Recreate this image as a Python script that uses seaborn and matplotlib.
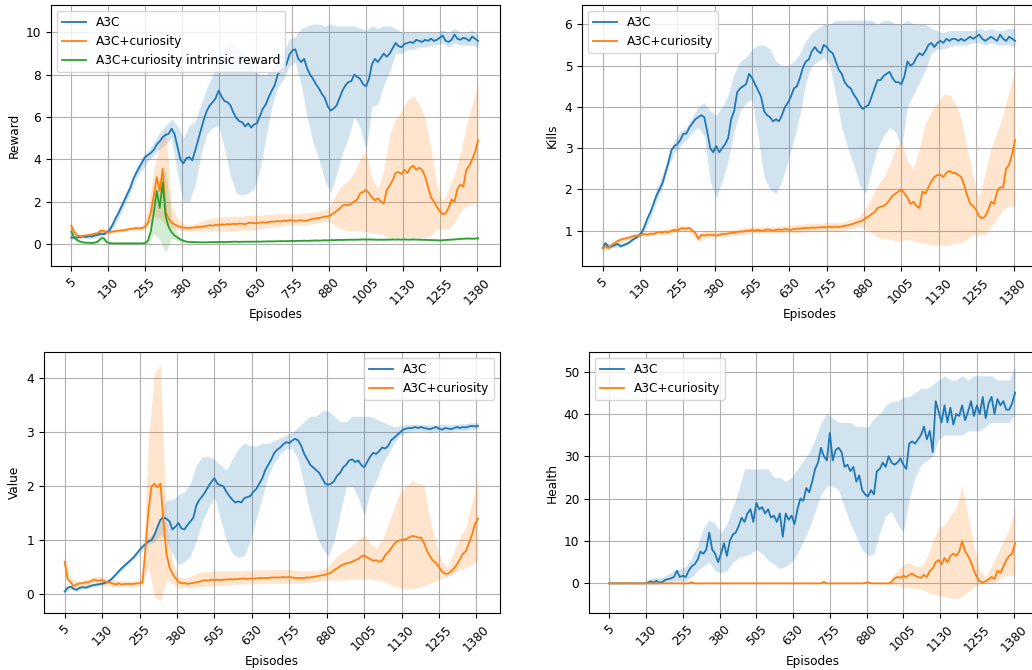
import numpy as np
import matplotlib
matplotlib.use("Agg")
import matplotlib.pyplot as plt
import seaborn as sns

# ---------------------------------------------------------------- data
# mean curves are sampled every 10 episodes, the shaded ranges every 20
episodes = np.arange(5, 1386, 10)
band_episodes = np.arange(5, 1386, 20)
tick_episodes = np.arange(5, 1381, 125)

reward_a3c = [
    0.30, 0.28, 0.30, 0.33, 0.35, 0.32, 0.36, 0.34, 0.40, 0.42,
    0.48, 0.45, 0.55, 0.65, 0.90, 1.20, 1.45, 1.75, 2.05, 2.35,
    2.65, 3.05, 3.35, 3.60, 3.85, 4.10, 4.20, 4.30, 4.45, 4.70,
    4.85, 5.05, 5.15, 5.20, 5.45, 5.20, 4.60, 4.00, 3.80, 4.05,
    4.10, 3.95, 4.40, 4.90, 5.40, 5.90, 6.30, 6.55, 6.70, 6.90,
    7.25, 6.95, 6.75, 6.70, 6.55, 6.20, 5.95, 5.80, 5.75, 5.55,
    5.70, 5.50, 5.65, 5.70, 6.05, 6.40, 6.60, 6.95, 7.25, 7.50,
    8.00, 8.20, 8.25, 8.50, 8.95, 9.15, 9.20, 8.75, 8.60, 8.75,
    8.30, 8.00, 7.80, 7.55, 7.35, 7.10, 6.90, 6.50, 6.30, 6.40,
    6.55, 6.90, 7.25, 7.50, 7.65, 7.70, 8.00, 7.90, 7.80, 7.55,
    7.45, 7.80, 8.50, 8.75, 8.60, 8.80, 9.00, 8.85, 9.00, 9.25,
    9.50, 9.35, 9.30, 9.45, 9.50, 9.55, 9.50, 9.65, 9.60, 9.55,
    9.65, 9.60, 9.70, 9.60, 9.65, 9.75, 9.85, 9.60, 9.55, 9.65,
    9.90, 9.70, 9.65, 9.75, 9.70, 9.60, 9.80, 9.70, 9.60]
reward_a3c_lo = [
    0.20, 0.20, 0.25, 0.25, 0.30, 0.35, 0.45, 0.70, 1.20, 1.80,
    2.40, 3.10, 3.50, 3.90, 4.20, 4.50, 4.70, 5.00, 3.30, 2.00,
    2.00, 2.80, 4.20, 5.20, 5.50, 5.60, 4.50, 3.20, 2.40, 2.30,
    2.40, 2.60, 3.50, 5.00, 6.50, 7.40, 7.80, 8.40, 8.60, 7.50,
    6.00, 4.80, 4.00, 3.00, 2.40, 3.30, 4.30, 5.00, 6.00, 5.50,
    4.40, 6.50, 6.60, 7.50, 8.15, 9.00, 9.00, 9.20, 9.20, 9.30,
    9.30, 9.40, 9.40, 9.50, 9.30, 9.50, 9.40, 9.40, 9.40, 9.30]
reward_a3c_hi = [
    0.40, 0.40, 0.45, 0.45, 0.50, 0.60, 0.65, 1.10, 1.70, 2.30,
    2.90, 3.60, 4.10, 4.40, 4.80, 5.30, 5.60, 5.90, 5.60, 5.00,
    5.60, 5.80, 6.60, 7.40, 8.00, 9.00, 9.30, 9.50, 9.30, 9.00,
    8.80, 8.20, 8.00, 8.00, 8.20, 8.70, 9.00, 9.70, 9.80, 10.20,
    10.30, 10.40, 10.40, 10.30, 10.40, 10.30, 10.30, 10.30, 10.30, 10.20,
    10.10, 10.30, 10.20, 10.30, 10.30, 10.20, 10.00, 10.00, 10.00, 10.00,
    10.00, 10.00, 10.00, 10.10, 10.00, 10.20, 10.00, 10.00, 10.10, 9.90]

reward_cur = [
    0.85, 0.55, 0.40, 0.35, 0.38, 0.40, 0.42, 0.45, 0.48, 0.50,
    0.62, 0.60, 0.55, 0.55, 0.58, 0.60, 0.62, 0.63, 0.65, 0.68,
    0.70, 0.72, 0.75, 0.72, 0.75, 0.80, 1.00, 1.50, 2.30, 3.15,
    2.50, 3.55, 1.50, 1.20, 1.00, 0.92, 0.85, 0.80, 0.76, 0.75,
    0.75, 0.76, 0.78, 0.80, 0.80, 0.82, 0.85, 0.88, 0.85, 0.90,
    0.88, 0.92, 0.90, 0.93, 0.92, 0.95, 0.93, 0.96, 0.95, 0.93,
    0.98, 1.00, 0.97, 0.98, 1.00, 1.02, 1.00, 1.03, 1.05, 1.05,
    1.08, 1.05, 1.10, 1.08, 1.12, 1.10, 1.08, 1.10, 1.12, 1.08,
    1.10, 1.15, 1.18, 1.20, 1.22, 1.25, 1.28, 1.30, 1.35, 1.45,
    1.55, 1.65, 1.80, 1.85, 1.82, 1.90, 2.00, 2.10, 2.40, 2.45,
    2.55, 2.40, 2.20, 2.05, 2.15, 2.00, 1.90, 2.55, 2.75, 3.00,
    3.35, 3.40, 3.30, 3.50, 3.35, 3.60, 3.70, 3.50, 3.60, 3.50,
    3.20, 2.70, 2.20, 2.00, 1.75, 1.55, 1.40, 1.45, 1.70, 2.10,
    2.00, 2.60, 2.80, 2.70, 3.50, 3.70, 4.00, 4.35, 4.90]
reward_cur_lo = [
    0.60, 0.30, 0.30, 0.35, 0.40, 0.45, 0.45, 0.50, 0.55, 0.58,
    0.62, 0.65, 0.65, 0.80, 1.30, 1.20, 0.90, 0.80, 0.65, 0.60,
    0.60, 0.60, 0.60, 0.60, 0.60, 0.60, 0.60, 0.60, 0.60, 0.65,
    0.65, 0.65, 0.70, 0.75, 0.80, 0.80, 0.85, 0.90, 0.90, 0.90,
    0.90, 0.95, 1.00, 1.05, 1.00, 0.80, 0.70, 0.60, 0.60, 0.60,
    0.60, 0.50, 0.50, 0.40, 0.30, 0.30, 0.30, 0.30, 0.30, 0.30,
    0.30, 0.40, 0.70, 0.70, 0.70, 1.00, 1.50, 1.80, 1.90, 2.00]
reward_cur_hi = [
    1.00, 0.50, 0.45, 0.50, 0.55, 0.80, 0.65, 0.65, 0.70, 0.72,
    0.78, 0.85, 0.85, 1.60, 3.50, 4.80, 5.50, 1.80, 1.20, 0.95,
    0.90, 0.95, 1.05, 1.15, 1.20, 1.25, 1.30, 1.30, 1.30, 1.30,
    1.35, 1.35, 1.35, 1.40, 1.40, 1.45, 1.40, 1.45, 1.40, 1.45,
    1.45, 1.50, 1.55, 1.60, 1.80, 2.40, 2.80, 3.00, 3.40, 4.00,
    4.40, 3.10, 2.60, 3.50, 5.20, 5.90, 6.30, 6.80, 7.00, 6.60,
    6.00, 4.50, 2.80, 2.00, 2.60, 3.30, 4.30, 5.60, 6.60, 7.60]

reward_intr = [
    0.57, 0.30, 0.17, 0.10, 0.07, 0.05, 0.05, 0.04, 0.06, 0.10,
    0.25, 0.27, 0.08, 0.03, 0.02, 0.02, 0.02, 0.02, 0.02, 0.02,
    0.02, 0.02, 0.02, 0.02, 0.02, 0.03, 0.15, 0.60, 1.50, 2.50,
    1.70, 2.90, 1.30, 0.80, 0.55, 0.40, 0.30, 0.20, 0.15, 0.10,
    0.09, 0.08, 0.08, 0.07, 0.07, 0.07, 0.07, 0.08, 0.08, 0.08,
    0.08, 0.09, 0.08, 0.09, 0.09, 0.10, 0.10, 0.09, 0.10, 0.10,
    0.10, 0.10, 0.10, 0.11, 0.10, 0.11, 0.11, 0.12, 0.11, 0.12,
    0.12, 0.13, 0.12, 0.13, 0.13, 0.14, 0.13, 0.14, 0.14, 0.15,
    0.14, 0.15, 0.15, 0.16, 0.15, 0.16, 0.17, 0.16, 0.18, 0.17,
    0.18, 0.19, 0.18, 0.19, 0.19, 0.20, 0.19, 0.20, 0.20, 0.21,
    0.20, 0.21, 0.20, 0.20, 0.19, 0.20, 0.19, 0.20, 0.20, 0.21,
    0.20, 0.21, 0.20, 0.21, 0.20, 0.20, 0.21, 0.20, 0.20, 0.19,
    0.19, 0.18, 0.18, 0.17, 0.17, 0.16, 0.17, 0.18, 0.19, 0.20,
    0.21, 0.22, 0.23, 0.24, 0.25, 0.25, 0.24, 0.25, 0.26]
reward_intr_lo = [
    0.40, 0.10, 0.04, 0.02, 0.02, 0.15, 0.04, 0.00, 0.00, 0.00,
    0.00, 0.00, 0.00, 0.00, 0.50, 0.20, -0.40, 0.25, 0.15, 0.10,
    0.06, 0.05, 0.05, 0.05, 0.05, 0.06, 0.06, 0.06, 0.07, 0.07,
    0.07, 0.08, 0.08, 0.08, 0.09, 0.09, 0.10, 0.10, 0.10, 0.11,
    0.11, 0.12, 0.12, 0.13, 0.13, 0.14, 0.14, 0.15, 0.15, 0.16,
    0.16, 0.16, 0.15, 0.15, 0.15, 0.16, 0.16, 0.16, 0.16, 0.16,
    0.15, 0.14, 0.13, 0.13, 0.15, 0.17, 0.19, 0.20, 0.20, 0.20]
reward_intr_hi = [
    0.80, 0.25, 0.12, 0.08, 0.10, 0.35, 0.15, 0.04, 0.04, 0.04,
    0.04, 0.04, 0.04, 0.20, 2.50, 3.00, 3.60, 1.20, 0.45, 0.20,
    0.12, 0.11, 0.11, 0.10, 0.10, 0.10, 0.11, 0.11, 0.12, 0.12,
    0.13, 0.13, 0.13, 0.14, 0.14, 0.15, 0.15, 0.16, 0.17, 0.18,
    0.18, 0.19, 0.19, 0.20, 0.20, 0.21, 0.22, 0.23, 0.23, 0.24,
    0.24, 0.24, 0.24, 0.24, 0.24, 0.25, 0.25, 0.25, 0.25, 0.24,
    0.23, 0.22, 0.22, 0.21, 0.22, 0.24, 0.27, 0.29, 0.30, 0.31]

kills_a3c = [
    0.58, 0.70, 0.60, 0.62, 0.65, 0.68, 0.62, 0.65, 0.68, 0.72,
    0.78, 0.82, 0.88, 0.95, 1.10, 1.30, 1.45, 1.65, 1.85, 2.00,
    2.15, 2.40, 2.65, 2.95, 3.05, 3.10, 3.20, 3.35, 3.35, 3.50,
    3.60, 3.70, 3.75, 3.80, 3.75, 3.40, 3.00, 2.90, 3.05, 2.90,
    3.00, 3.10, 3.25, 3.70, 3.90, 4.35, 4.45, 4.50, 4.55, 4.80,
    4.70, 4.55, 4.40, 4.25, 3.90, 3.80, 3.75, 3.65, 3.70, 3.65,
    3.80, 4.00, 4.10, 4.25, 4.45, 4.50, 4.70, 4.95, 5.10, 5.15,
    5.35, 5.45, 5.35, 5.30, 5.50, 5.45, 5.35, 5.30, 5.10, 4.90,
    4.80, 4.60, 4.50, 4.45, 4.30, 4.20, 4.05, 3.95, 4.00, 4.05,
    4.25, 4.45, 4.65, 4.65, 4.75, 4.80, 4.85, 4.70, 4.60, 4.60,
    4.55, 4.75, 5.10, 5.00, 5.05, 5.20, 5.30, 5.25, 5.35, 5.50,
    5.55, 5.45, 5.55, 5.60, 5.55, 5.65, 5.60, 5.65, 5.65, 5.60,
    5.65, 5.60, 5.65, 5.70, 5.65, 5.70, 5.75, 5.65, 5.60, 5.65,
    5.70, 5.65, 5.60, 5.75, 5.65, 5.60, 5.70, 5.65, 5.60]
kills_a3c_lo = [
    0.55, 0.55, 0.60, 0.60, 0.63, 0.73, 0.83, 1.00, 1.30, 1.70,
    2.05, 2.55, 2.90, 3.05, 3.20, 3.40, 3.50, 3.30, 2.20, 1.80,
    2.20, 2.70, 3.40, 3.90, 4.10, 4.20, 3.30, 2.30, 2.00, 1.90,
    2.20, 2.70, 3.20, 3.80, 4.60, 5.00, 5.10, 5.20, 5.00, 4.30,
    3.50, 3.00, 2.60, 2.10, 1.90, 2.50, 3.00, 3.30, 3.50, 3.40,
    3.00, 4.00, 4.30, 4.60, 4.90, 5.30, 5.40, 5.40, 5.45, 5.50,
    5.50, 5.50, 5.55, 5.55, 5.50, 5.55, 5.50, 5.50, 5.50, 5.45]
kills_a3c_hi = [
    0.70, 0.70, 0.70, 0.70, 0.73, 0.83, 0.93, 1.20, 1.55, 2.00,
    2.35, 2.85, 3.20, 3.40, 3.50, 3.75, 4.00, 4.10, 3.90, 3.80,
    4.00, 4.30, 4.80, 5.10, 5.20, 5.40, 5.50, 5.50, 5.40, 5.10,
    5.00, 5.00, 5.10, 5.30, 5.60, 5.80, 5.90, 6.00, 6.00, 6.10,
    6.10, 6.10, 6.10, 6.10, 6.10, 6.10, 6.00, 6.10, 6.10, 6.00,
    6.00, 6.10, 6.00, 6.00, 6.00, 5.90, 5.85, 5.80, 5.85, 5.85,
    5.85, 5.85, 5.85, 5.90, 5.85, 5.90, 5.85, 5.85, 5.90, 5.90]

kills_cur = [
    0.58, 0.62, 0.58, 0.65, 0.70, 0.75, 0.78, 0.80, 0.82, 0.84,
    0.86, 0.88, 0.88, 0.90, 0.92, 0.90, 0.93, 0.92, 0.95, 0.97,
    0.95, 0.98, 0.96, 1.00, 1.02, 1.00, 1.05, 1.06, 1.05, 1.07,
    1.00, 0.95, 0.80, 0.90, 0.88, 0.90, 0.90, 0.90, 0.88, 0.90,
    0.92, 0.92, 0.93, 0.95, 0.95, 0.97, 0.98, 0.98, 1.00, 1.00,
    1.02, 1.00, 1.02, 1.00, 1.01, 1.03, 1.02, 1.00, 1.02, 1.03,
    1.02, 1.04, 1.03, 1.02, 1.04, 1.05, 1.05, 1.06, 1.07, 1.06,
    1.08, 1.07, 1.08, 1.08, 1.09, 1.08, 1.10, 1.08, 1.10, 1.09,
    1.10, 1.12, 1.13, 1.15, 1.17, 1.20, 1.22, 1.25, 1.30, 1.35,
    1.40, 1.45, 1.55, 1.58, 1.60, 1.65, 1.75, 1.85, 1.90, 1.95,
    2.00, 1.90, 1.80, 1.65, 1.70, 1.60, 1.55, 1.95, 1.90, 2.05,
    2.20, 2.30, 2.35, 2.35, 2.30, 2.40, 2.45, 2.40, 2.40, 2.35,
    2.30, 2.10, 1.85, 1.65, 1.60, 1.50, 1.35, 1.30, 1.35, 1.50,
    1.70, 1.65, 1.95, 2.05, 2.05, 2.50, 2.60, 2.85, 3.20]
kills_cur_lo = [
    0.52, 0.55, 0.63, 0.72, 0.76, 0.80, 0.83, 0.86, 0.88, 0.90,
    0.90, 0.90, 0.95, 0.98, 0.98, 0.92, 0.72, 0.82, 0.83, 0.83,
    0.86, 0.87, 0.88, 0.90, 0.92, 0.93, 0.94, 0.94, 0.94, 0.95,
    0.95, 0.95, 0.95, 0.96, 0.97, 0.98, 0.98, 0.99, 1.00, 1.00,
    1.00, 1.02, 1.05, 1.10, 1.05, 0.95, 0.85, 0.80, 0.80, 0.75,
    0.75, 0.80, 0.75, 0.70, 0.70, 0.65, 0.65, 0.65, 0.65, 0.70,
    0.70, 0.80, 0.90, 0.90, 0.90, 1.10, 1.30, 1.50, 1.60, 1.60]
kills_cur_hi = [
    0.65, 0.65, 0.77, 0.85, 0.88, 0.92, 0.95, 0.97, 0.98, 1.00,
    1.02, 1.04, 1.10, 1.12, 1.13, 1.08, 0.90, 1.00, 0.98, 0.98,
    0.98, 1.00, 1.03, 1.06, 1.08, 1.10, 1.10, 1.10, 1.10, 1.10,
    1.12, 1.12, 1.14, 1.15, 1.17, 1.18, 1.18, 1.19, 1.20, 1.20,
    1.20, 1.24, 1.30, 1.35, 1.55, 1.80, 2.10, 2.30, 2.60, 3.00,
    3.20, 2.70, 2.50, 3.00, 3.60, 3.90, 4.10, 4.30, 4.30, 4.10,
    3.70, 3.00, 2.30, 1.80, 2.40, 3.00, 3.40, 3.80, 4.40, 4.90]

value_a3c = [
    0.05, 0.12, 0.14, 0.10, 0.08, 0.12, 0.13, 0.12, 0.14, 0.16,
    0.17, 0.18, 0.19, 0.20, 0.22, 0.25, 0.30, 0.36, 0.42, 0.48,
    0.53, 0.58, 0.63, 0.68, 0.75, 0.82, 0.88, 0.93, 0.98, 1.00,
    1.10, 1.25, 1.38, 1.42, 1.40, 1.35, 1.20, 1.25, 1.32, 1.22,
    1.20, 1.28, 1.35, 1.42, 1.65, 1.75, 1.82, 1.90, 2.00, 2.08,
    2.15, 2.05, 2.02, 2.00, 1.90, 1.82, 1.75, 1.70, 1.72, 1.70,
    1.78, 1.80, 1.82, 1.90, 1.95, 2.05, 2.15, 2.30, 2.40, 2.50,
    2.62, 2.68, 2.72, 2.78, 2.82, 2.80, 2.85, 2.88, 2.85, 2.75,
    2.60, 2.50, 2.40, 2.35, 2.30, 2.25, 2.15, 2.05, 2.03, 2.05,
    2.10, 2.20, 2.25, 2.35, 2.40, 2.48, 2.50, 2.45, 2.48, 2.40,
    2.35, 2.45, 2.55, 2.62, 2.60, 2.65, 2.72, 2.70, 2.75, 2.85,
    2.90, 2.95, 3.00, 3.05, 3.07, 3.08, 3.08, 3.10, 3.08, 3.10,
    3.08, 3.07, 3.06, 3.08, 3.10, 3.07, 3.05, 3.08, 3.07, 3.06,
    3.08, 3.10, 3.08, 3.10, 3.09, 3.11, 3.12, 3.11, 3.12]
value_a3c_lo = [
    0.03, 0.10, 0.05, 0.10, 0.11, 0.14, 0.16, 0.19, 0.26, 0.38,
    0.49, 0.59, 0.70, 0.82, 0.92, 0.97, 1.10, 1.00, 0.75, 0.55,
    0.60, 0.70, 1.00, 1.35, 1.60, 1.80, 1.40, 1.00, 0.75, 0.68,
    0.72, 1.00, 1.40, 1.80, 2.20, 2.45, 2.60, 2.70, 2.70, 2.50,
    2.00, 1.50, 1.10, 0.85, 0.70, 1.00, 1.50, 2.00, 2.00, 1.80,
    1.45, 1.90, 2.10, 2.40, 2.60, 2.80, 2.95, 3.00, 3.02, 3.02,
    3.02, 3.00, 3.02, 3.02, 3.00, 3.02, 3.03, 3.03, 3.05, 3.05]
value_a3c_hi = [
    0.08, 0.17, 0.12, 0.16, 0.17, 0.20, 0.22, 0.25, 0.34, 0.46,
    0.57, 0.67, 0.80, 0.94, 1.05, 1.15, 1.45, 1.75, 1.75, 1.85,
    1.90, 2.05, 2.40, 2.55, 2.55, 2.50, 2.40, 2.30, 2.50, 2.70,
    2.80, 2.75, 2.75, 2.80, 2.80, 2.85, 2.90, 2.95, 3.00, 3.10,
    3.20, 3.30, 3.30, 3.40, 3.40, 3.30, 3.20, 3.20, 3.30, 3.30,
    3.30, 3.30, 3.25, 3.20, 3.15, 3.10, 3.12, 3.15, 3.15, 3.15,
    3.15, 3.14, 3.14, 3.15, 3.14, 3.15, 3.16, 3.16, 3.18, 3.18]

value_cur = [
    0.60, 0.28, 0.22, 0.15, 0.18, 0.20, 0.20, 0.22, 0.22, 0.25,
    0.27, 0.25, 0.26, 0.25, 0.22, 0.22, 0.20, 0.18, 0.20, 0.18,
    0.19, 0.19, 0.19, 0.19, 0.20, 0.20, 0.22, 0.85, 1.55, 2.00,
    2.05, 1.98, 2.05, 1.35, 0.75, 0.50, 0.38, 0.30, 0.23, 0.20,
    0.21, 0.19, 0.20, 0.21, 0.22, 0.23, 0.25, 0.26, 0.25, 0.27,
    0.26, 0.27, 0.26, 0.27, 0.27, 0.28, 0.27, 0.28, 0.28, 0.29,
    0.29, 0.28, 0.29, 0.29, 0.29, 0.30, 0.30, 0.30, 0.30, 0.31,
    0.31, 0.31, 0.31, 0.32, 0.31, 0.32, 0.31, 0.30, 0.30, 0.30,
    0.30, 0.31, 0.31, 0.32, 0.33, 0.34, 0.35, 0.36, 0.38, 0.40,
    0.45, 0.48, 0.52, 0.55, 0.57, 0.58, 0.60, 0.63, 0.65, 0.70,
    0.72, 0.68, 0.65, 0.62, 0.63, 0.60, 0.62, 0.72, 0.78, 0.85,
    0.93, 0.98, 1.00, 1.01, 1.02, 1.05, 1.08, 1.07, 1.05, 1.05,
    0.95, 0.80, 0.70, 0.62, 0.58, 0.50, 0.42, 0.38, 0.38, 0.42,
    0.48, 0.55, 0.65, 0.75, 0.80, 0.95, 1.10, 1.30, 1.40]
value_cur_lo = [
    0.50, 0.15, 0.12, 0.15, 0.15, 0.18, 0.18, 0.15, 0.14, 0.14,
    0.14, 0.14, 0.15, 0.15, 0.50, -0.05, -0.12, 0.25, 0.20, 0.12,
    0.12, 0.12, 0.13, 0.14, 0.15, 0.15, 0.16, 0.17, 0.18, 0.18,
    0.19, 0.19, 0.19, 0.20, 0.20, 0.20, 0.20, 0.20, 0.20, 0.20,
    0.21, 0.22, 0.23, 0.25, 0.26, 0.26, 0.26, 0.27, 0.28, 0.28,
    0.28, 0.28, 0.27, 0.25, 0.20, 0.15, 0.12, 0.10, 0.10, 0.12,
    0.15, 0.20, 0.25, 0.30, 0.33, 0.38, 0.45, 0.50, 0.55, 0.62]
value_cur_hi = [
    0.70, 0.30, 0.25, 0.26, 0.28, 0.33, 0.33, 0.30, 0.27, 0.26,
    0.25, 0.25, 0.25, 0.30, 2.90, 4.10, 4.25, 1.30, 0.60, 0.32,
    0.30, 0.33, 0.38, 0.42, 0.42, 0.43, 0.43, 0.43, 0.43, 0.43,
    0.44, 0.44, 0.45, 0.45, 0.45, 0.46, 0.46, 0.46, 0.45, 0.44,
    0.43, 0.43, 0.44, 0.46, 0.52, 0.65, 0.75, 0.82, 0.90, 1.00,
    1.10, 0.95, 0.85, 1.00, 1.30, 1.60, 1.90, 2.00, 2.10, 2.05,
    2.00, 1.40, 0.95, 0.60, 0.50, 0.80, 1.05, 1.25, 1.70, 2.15]

health_a3c = [
    0.0, 0.0, 0.0, 0.0, 0.0, 0.0, 0.0, 0.0, 0.0, 0.0,
    0.0, 0.0, 0.0, 0.1, 0.5, 0.2, 0.6, 0.2, 0.3, 0.8,
    1.0, 1.2, 1.5, 3.0, 1.5, 1.8, 1.5, 3.0, 4.0, 4.5,
    5.5, 7.5, 7.0, 8.0, 12.0, 8.0, 7.0, 5.0, 7.0, 9.5,
    6.5, 10.0, 11.5, 12.0, 13.5, 15.5, 14.5, 16.5, 17.5, 14.5,
    19.0, 17.5, 18.0, 16.5, 17.5, 15.5, 16.0, 14.5, 16.5, 11.0,
    16.5, 15.0, 16.0, 14.0, 17.5, 20.0, 19.5, 22.5, 21.5, 24.0,
    27.0, 28.5, 32.0, 30.0, 29.0, 35.5, 29.0, 31.5, 32.0, 31.0,
    27.5, 28.0, 26.5, 27.5, 24.0, 25.5, 22.0, 21.0, 20.5, 22.0,
    21.0, 26.5, 27.0, 28.5, 27.5, 30.0, 28.5, 28.0, 28.5, 29.5,
    28.0, 27.0, 33.0, 33.5, 33.0, 34.0, 35.0, 37.0, 34.0, 36.0,
    31.0, 43.0, 40.5, 38.0, 42.0, 38.0, 41.5, 37.5, 40.0, 39.5,
    42.0, 38.5, 40.5, 43.0, 39.5, 42.0, 40.0, 44.0, 39.0, 42.5,
    44.0, 40.0, 43.5, 42.0, 43.0, 41.0, 41.0, 42.5, 45.0]
health_a3c_lo = [
    0.0, 0.0, 0.0, 0.0, 0.0, 0.0, 0.0, -0.2, -0.2, 0.0,
    0.2, 0.5, 0.5, 0.5, 1.5, 3.0, 4.0, 5.0, 3.0, 2.5,
    3.0, 5.0, 6.0, 6.5, 7.0, 8.0, 7.0, 5.5, 4.5, 3.5,
    4.0, 5.0, 7.0, 10.0, 13.0, 17.0, 21.0, 23.0, 23.0, 22.0,
    18.0, 14.0, 11.0, 8.0, 6.5, 7.0, 12.0, 16.0, 17.0, 14.0,
    12.0, 20.0, 25.0, 28.0, 29.0, 30.0, 34.0, 35.0, 35.0, 35.0,
    35.0, 36.0, 36.0, 36.0, 37.0, 38.0, 38.0, 38.0, 38.0, 40.0]
health_a3c_hi = [
    0.0, 0.0, 0.0, 0.0, 0.0, 0.0, 0.3, 1.2, 1.5, 1.5,
    2.2, 3.0, 3.5, 4.0, 6.0, 9.0, 13.0, 15.0, 14.0, 12.0,
    14.0, 18.0, 22.0, 27.0, 27.0, 27.0, 27.0, 27.0, 25.0, 25.0,
    24.0, 25.0, 27.0, 29.0, 31.0, 34.0, 38.0, 40.0, 39.0, 38.0,
    38.0, 38.0, 37.0, 37.0, 37.0, 39.0, 40.0, 42.0, 43.0, 43.0,
    44.0, 44.0, 45.0, 46.0, 46.0, 47.0, 48.0, 49.0, 48.0, 48.0,
    49.0, 48.0, 49.0, 49.0, 49.0, 49.0, 48.0, 48.0, 48.0, 51.0]

health_cur = [
    0.0, 0.0, 0.0, 0.0, 0.0, 0.0, 0.1, 0.0, 0.0, 0.0,
    0.0, 0.0, 0.0, 0.0, 0.0, 0.0, 0.0, 0.0, 0.0, 0.0,
    0.0, 0.0, 0.0, 0.0, 0.0, 0.0, 0.0, 0.0, 0.3, 0.0,
    0.0, 0.0, 0.0, 0.0, 0.0, 0.0, 0.0, 0.0, 0.0, 0.0,
    0.0, 0.0, 0.0, 0.0, 0.0, 0.0, 0.0, 0.0, 0.0, 0.0,
    0.0, 0.0, 0.0, 0.0, 0.0, 0.0, 0.0, 0.0, 0.0, 0.0,
    0.0, 0.0, 0.0, 0.0, 0.0, 0.0, 0.0, 0.0, 0.0, 0.0,
    0.0, 0.0, 0.0, 0.4, 0.0, 0.0, 0.0, 0.0, 0.0, 0.0,
    0.0, 0.0, 0.0, 0.0, 0.0, 0.0, 0.0, 0.1, 0.3, 0.0,
    0.0, 0.0, 0.0, 0.0, 0.0, 0.0, 0.3, 1.2, 1.5, 1.3,
    1.8, 1.5, 2.0, 2.3, 1.8, 1.5, 1.3, 2.0, 1.5, 3.0,
    3.5, 5.0, 5.5, 4.5, 6.0, 5.0, 6.5, 7.0, 6.5, 7.5,
    10.0, 7.5, 6.5, 5.0, 3.0, 1.5, 0.5, 0.2, 0.5, 1.0,
    1.5, 1.0, 3.0, 2.5, 4.0, 5.5, 6.5, 7.0, 9.5]
health_cur_lo = [
    0.0, 0.0, 0.0, 0.0, 0.0, 0.0, 0.0, 0.0, 0.0, 0.0,
    0.0, 0.0, 0.0, 0.0, 0.0, 0.0, 0.0, 0.0, 0.0, 0.0,
    0.0, 0.0, 0.0, 0.0, 0.0, 0.0, 0.0, 0.0, 0.0, 0.0,
    0.0, 0.0, 0.0, 0.0, 0.0, 0.0, 0.0, 0.0, 0.0, 0.0,
    0.0, 0.0, 0.0, 0.0, 0.0, 0.0, 0.0, 0.0, -0.3, -0.5,
    -1.0, -1.0, -1.2, -1.5, -2.0, -2.5, -3.0, -3.0, -3.5, -3.5,
    -3.0, -2.0, -1.0, 0.0, 0.0, 0.0, 0.5, 1.5, 2.0, 2.0]
health_cur_hi = [
    0.0, 0.0, 0.0, 0.0, 0.0, 0.0, 0.0, 0.0, 0.0, 0.0,
    0.0, 0.0, 0.0, 0.0, 0.0, 0.0, 0.0, 0.0, 0.0, 0.0,
    0.0, 0.0, 0.0, 0.0, 0.0, 0.0, 0.0, 0.0, 0.0, 0.0,
    0.0, 0.0, 0.0, 0.0, 0.0, 0.0, 0.0, 0.0, 0.0, 0.0,
    0.0, 0.0, 0.0, 0.0, 0.0, 0.0, 0.0, 0.0, 1.5, 3.0,
    4.5, 5.0, 4.0, 4.0, 6.0, 10.0, 13.0, 14.0, 16.0, 18.0,
    23.0, 16.0, 9.0, 3.0, 1.5, 4.0, 7.0, 10.0, 13.0, 17.5]

# ---------------------------------------------------------------- style
BLUE, ORANGE, GREEN = "#1f77b4", "#ff7f0e", "#2ca02c"
FS = 8.7

plt.rcParams.update({
    "font.family": ["DejaVu Sans"],
    "font.size": FS,
    "axes.linewidth": 0.8,
    "axes.edgecolor": "black",
    "grid.color": "#b0b0b0",
    "grid.linewidth": 0.8,
    "legend.fontsize": FS,
    "xtick.labelsize": FS,
    "ytick.labelsize": FS,
    "axes.labelsize": FS,
})

fig = plt.figure(figsize=(10.32, 6.70), dpi=100)

panels = [
    dict(rect=[0.0494, 0.603, 0.435, 0.3896], ylabel="Reward",
         ylim=(-1.05, 11.3), yticks=[0, 2, 4, 6, 8, 10], loc="upper left",
         series=[("A3C", BLUE, reward_a3c, reward_a3c_lo, reward_a3c_hi),
                 ("A3C+curiosity", ORANGE, reward_cur, reward_cur_lo, reward_cur_hi),
                 ("A3C+curiosity intrinsic reward", GREEN, reward_intr,
                  reward_intr_lo, reward_intr_hi)]),
    dict(rect=[0.564, 0.603, 0.441, 0.3896], ylabel="Kills",
         ylim=(0.145, 6.47), yticks=[1, 2, 3, 4, 5, 6], loc="upper left",
         series=[("A3C", BLUE, kills_a3c, kills_a3c_lo, kills_a3c_hi),
                 ("A3C+curiosity", ORANGE, kills_cur, kills_cur_lo, kills_cur_hi)]),
    dict(rect=[0.0426, 0.085, 0.442, 0.3896], ylabel="Value",
         ylim=(-0.35, 4.49), yticks=[0, 1, 2, 3, 4], loc="upper right",
         series=[("A3C", BLUE, value_a3c, value_a3c_lo, value_a3c_hi),
                 ("A3C+curiosity", ORANGE, value_cur, value_cur_lo, value_cur_hi)]),
    dict(rect=[0.5707, 0.085, 0.434, 0.3896], ylabel="Health",
         ylim=(-7.0, 54.6), yticks=[0, 10, 20, 30, 40, 50], loc="upper left",
         series=[("A3C", BLUE, health_a3c, health_a3c_lo, health_a3c_hi),
                 ("A3C+curiosity", ORANGE, health_cur, health_cur_lo, health_cur_hi)]),
]

for p in panels:
    ax = fig.add_axes(p["rect"])
    for label, color, mean, lo, hi in p["series"]:
        ax.fill_between(band_episodes, lo, hi, color=color, alpha=0.2,
                        linewidth=0)
        sns.lineplot(x=episodes, y=mean, ax=ax, color=color, label=label,
                     linewidth=1.3)
    ax.set_xlim(-64, 1459)
    ax.set_ylim(*p["ylim"])
    ax.set_xticks(tick_episodes)
    ax.set_xticklabels([str(t) for t in tick_episodes], rotation=45)
    ax.set_yticks(p["yticks"])
    ax.grid(True)
    ax.set_axisbelow(True)
    ax.set_xlabel("Episodes", labelpad=1)
    ax.set_ylabel(p["ylabel"])
    ax.legend(loc=p["loc"])

fig.savefig("out.png", dpi=100)
